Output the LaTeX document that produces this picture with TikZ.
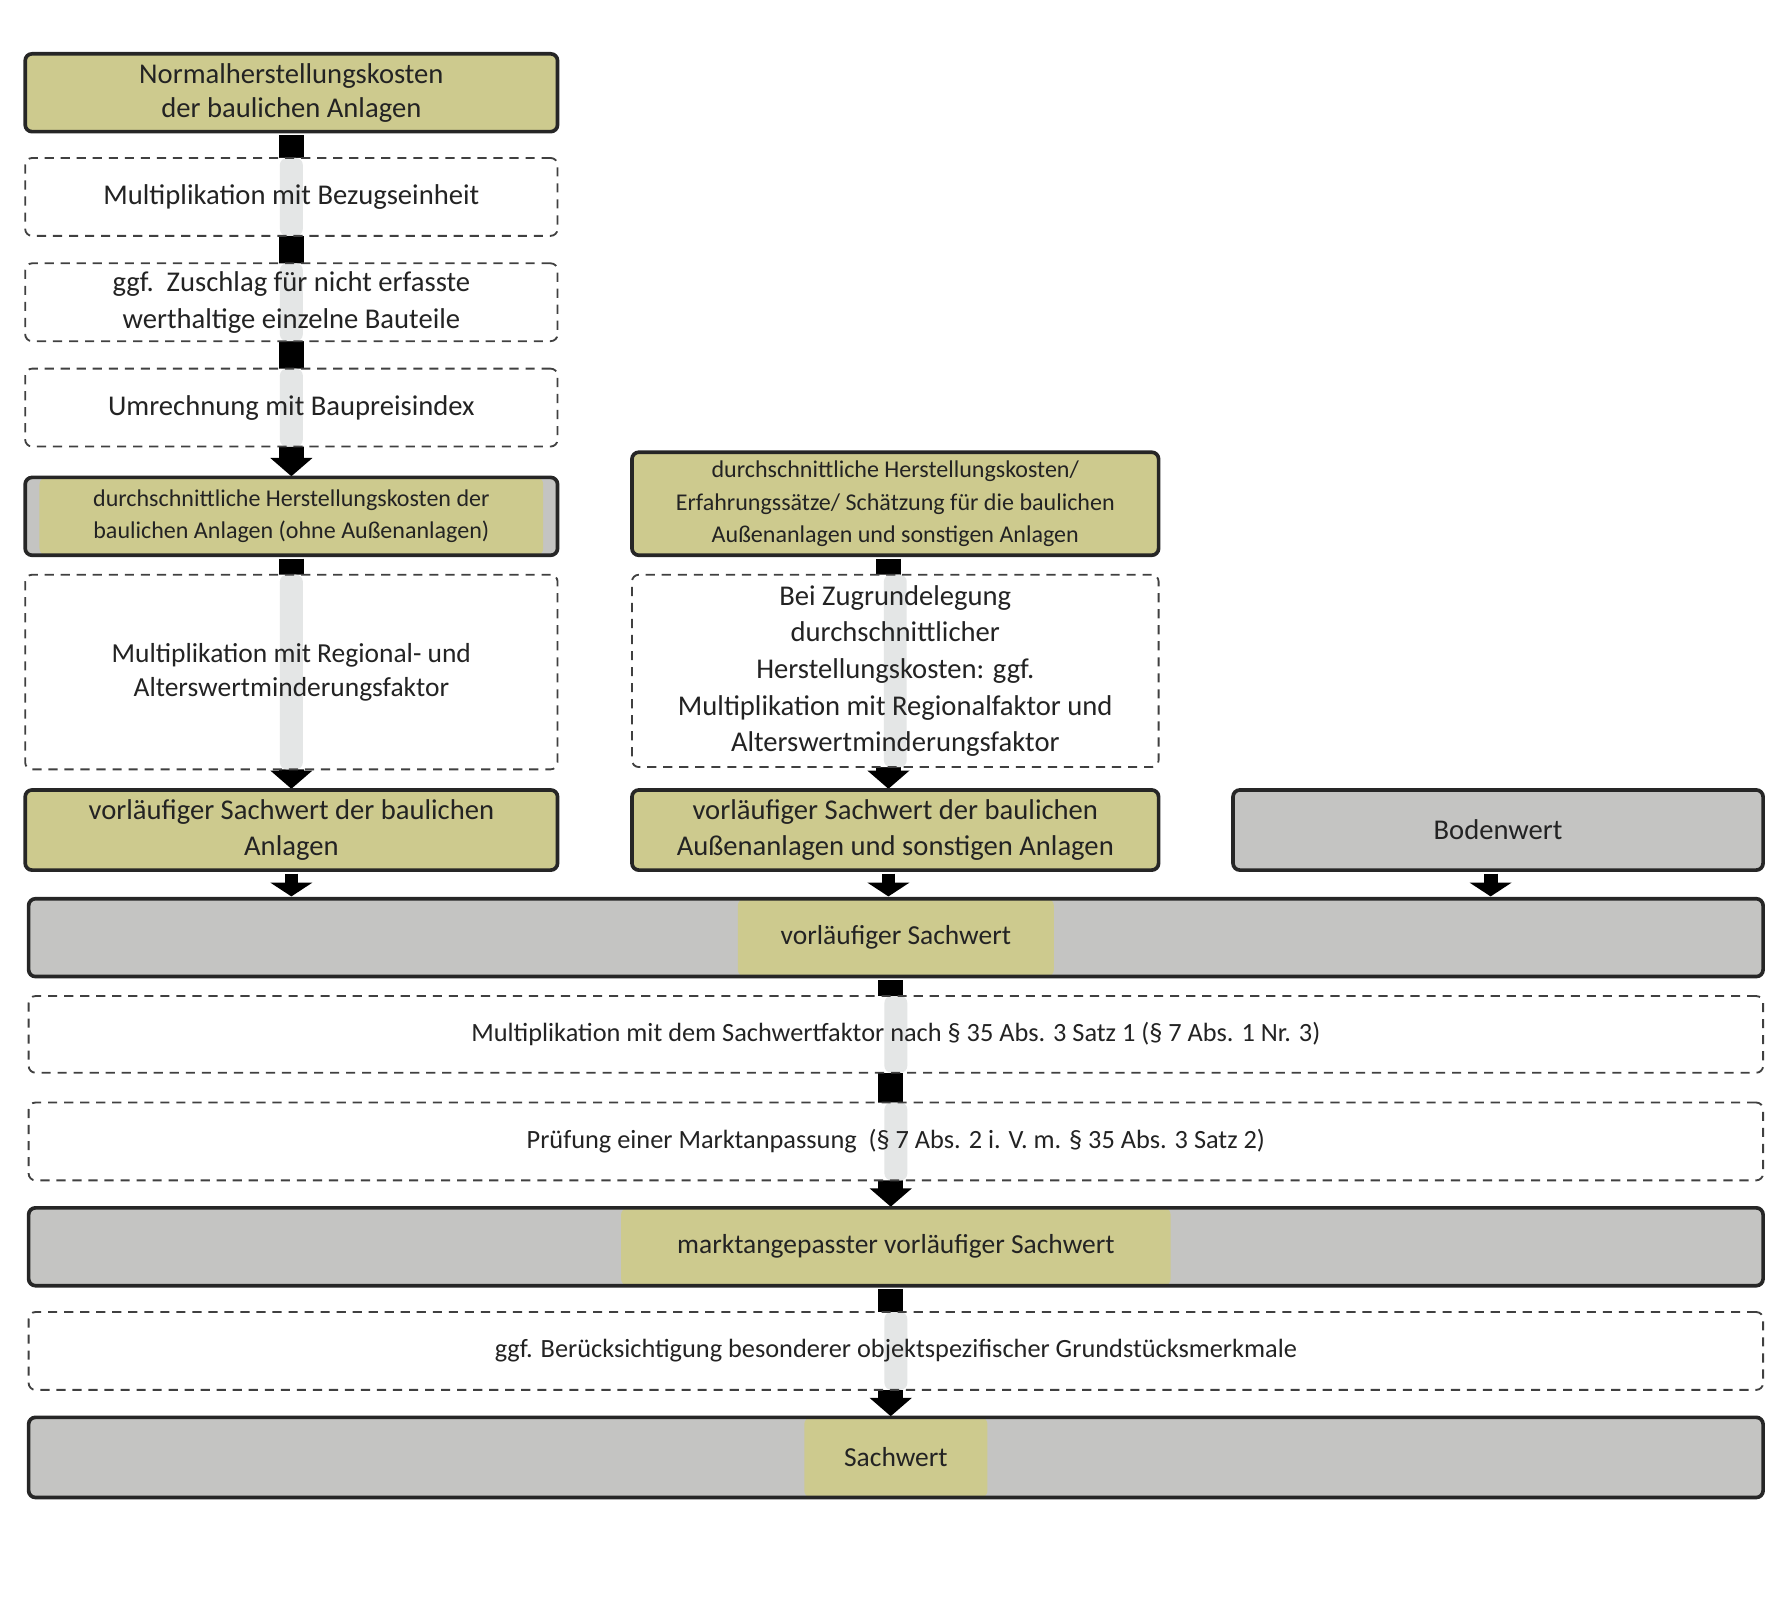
\documentclass[tikz,border=0pt]{standalone}
\usepackage{fontspec}
\setmainfont{Carlito}
\usetikzlibrary{arrows.meta}
\definecolor{olv}{RGB}{205,202,142}
\definecolor{gry}{RGB}{196,196,194}
\definecolor{band}{RGB}{228,230,230}
\definecolor{txt}{RGB}{35,35,35}
\tikzset{
  solid box/.style={draw=black!85, line width=1.6pt, rounded corners=3pt, align=center, text=txt, inner sep=1pt},
  olive box/.style={solid box, fill=olv},
  grey box/.style={solid box, fill=gry},
  dash box/.style={draw=black!75, line width=0.8pt, dash pattern=on 4pt off 3pt, rounded corners=3pt, fill=white, align=center, text=txt, inner sep=1pt,
    path picture={\fill[band] ([xshift=-5pt]path picture bounding box.south) rectangle ([xshift=5pt]path picture bounding box.north);}},
  hl/.style={path picture={\fill[olv] ([xshift=-#1]path picture bounding box.south) rectangle ([xshift=#1]path picture bounding box.north);}},
  lw/.style={minimum width=232.5pt},
  mw/.style={minimum width=230pt},
  ww/.style={minimum width=757.5pt},
  flow/.style={line width=11pt, black, -{Triangle[width=18pt,length=8pt]}},
  thin flow/.style={line width=6pt, black, -{Triangle[width=18pt,length=6pt]}},
}
\begin{document}
\begin{tikzpicture}[x=0.5pt,y=-0.5pt]
\useasboundingbox (0,0) rectangle (1560,1413);
% arrows first (behind boxes)
\coordinate (a1) at (254.5,115);
\coordinate (a2) at (254.5,417);
\draw[flow] (254.5,118) -- (254.5,416);
\draw[flow] (254.5,488) -- (254.5,689);
\draw[flow] (776,488) -- (776,689);
\draw[flow] (778,856) -- (778,1054);
\draw[flow] (778,1126) -- (778,1237);
\draw[thin flow] (254.5,763) -- (254.5,783);
\draw[thin flow] (776,763) -- (776,783);
\draw[thin flow] (1302,763) -- (1302,783);

\node[olive box, lw, minimum height=34pt, font=\fontsize{12.5}{15}\selectfont] (n1) at (254.5,81) {Normalherstellungskosten\\der baulichen Anlagen};
\node[dash box, lw, minimum height=34pt, font=\fontsize{12.5}{15}\selectfont] (d1) at (254.5,172) {Multiplikation mit Bezugseinheit};
\node[dash box, lw, minimum height=34pt, font=\fontsize{12.5}{16}\selectfont] (d2) at (254.5,264) {ggf.\ \ Zuschlag für nicht erfasste\\werthaltige einzelne Bauteile};
\node[dash box, lw, minimum height=34pt, font=\fontsize{12.5}{15}\selectfont] (d3) at (254.5,356) {Umrechnung mit Baupreisindex};
\node[grey box, lw, minimum height=34pt, hl=110pt, font=\fontsize{10.5}{14}\selectfont] (n2) at (254.5,451) {durchschnittliche Herstellungskosten der\\baulichen Anlagen (ohne Außenanlagen)};
\node[dash box, lw, minimum height=85pt, font=\fontsize{12}{15}\selectfont] (d4) at (254.5,587) {Multiplikation mit Regional- und\\Alterswertminderungsfaktor};
\node[olive box, lw, minimum height=35pt, font=\fontsize{12.5}{16}\selectfont] (n3) at (254.5,725) {vorläufiger Sachwert der baulichen\\Anlagen};

\node[olive box, mw, minimum height=45pt, font=\fontsize{10.5}{14}\selectfont] (m1) at (782,440) {durchschnittliche Herstellungskosten/\\Erfahrungssätze/ Schätzung für die baulichen\\Außenanlagen und sonstigen Anlagen};
\node[dash box, mw, minimum height=84pt, font=\fontsize{12.5}{16}\selectfont] (m2) at (782,586) {Bei Zugrundelegung\\durchschnittlicher\\Herstellungskosten: ggf.\\Multiplikation mit Regionalfaktor und\\Alterswertminderungsfaktor};
\node[olive box, mw, minimum height=35pt, font=\fontsize{12.5}{16}\selectfont] (m3) at (782,725) {vorläufiger Sachwert der baulichen\\Außenanlagen und sonstigen Anlagen};

\node[grey box, minimum width=231.5pt, minimum height=35pt, font=\fontsize{12.5}{15}\selectfont] (b) at (1308.5,725) {Bodenwert};

\node[grey box, ww, minimum height=34pt, hl=69pt, font=\fontsize{12}{15}\selectfont] (w1) at (782.5,819) {vorläufiger Sachwert};
\node[dash box, ww, minimum height=33.5pt, font=\fontsize{11.5}{15}\selectfont] (dw1) at (782.5,903.5) {Multiplikation mit dem Sachwertfaktor nach § 35 Abs. 3 Satz 1 (§ 7 Abs. 1 Nr. 3)};
\node[dash box, ww, minimum height=34pt, font=\fontsize{11.5}{15}\selectfont] (dw2) at (782.5,997) {Prüfung einer Marktanpassung \ (§ 7 Abs. 2 i. V. m. § 35 Abs. 3 Satz 2)};
\node[grey box, ww, minimum height=34pt, hl=120pt, font=\fontsize{12}{15}\selectfont] (w2) at (782.5,1089) {marktangepasster vorläufiger Sachwert};
\node[dash box, ww, minimum height=34pt, font=\fontsize{11.5}{15}\selectfont] (dw3) at (782.5,1180) {ggf. Berücksichtigung besonderer objektspezifischer Grundstücksmerkmale};
\node[grey box, ww, minimum height=35pt, hl=40pt, font=\fontsize{12}{15}\selectfont] (w3) at (782.5,1273) {Sachwert};
\end{tikzpicture}
\end{document}
